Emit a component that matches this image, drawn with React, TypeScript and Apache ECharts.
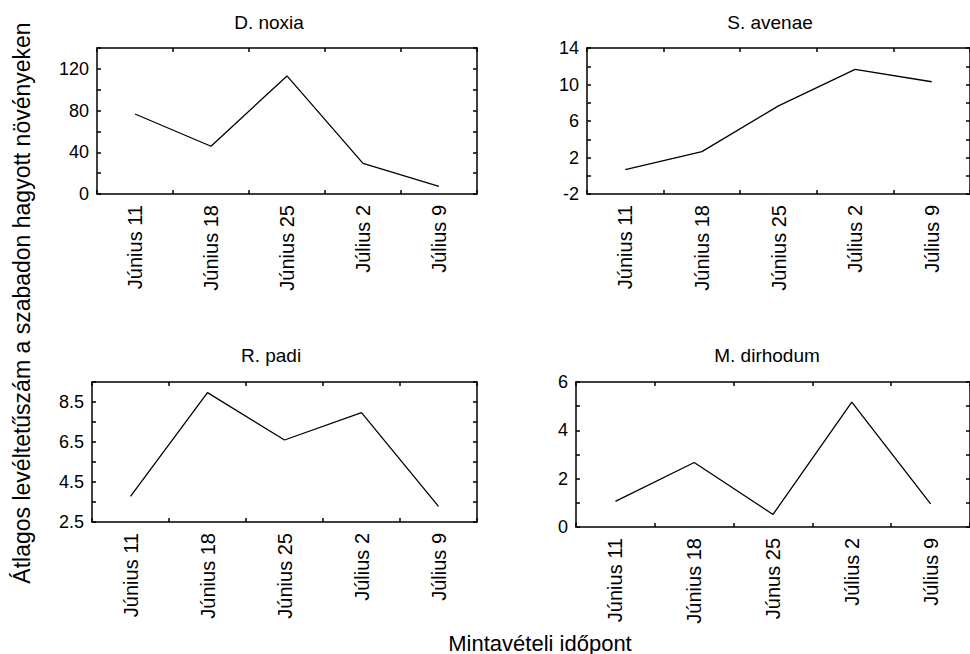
import React, { useEffect, useRef } from "react";
import * as echarts from "echarts";

const categories = ["Június 11", "Június 18", "Június 25", "Július 2", "Július 9"];
const categoriesDirhodum = ["Június 11", "Június 18", "Június 25", "Július 2", "Július 9"];
const categoriesDirhodumLabels = ["Június 11", "Június 18", "Júnus 25", "Július 2", "Július 9"];

const noxiaValues = [76.7, 45.8, 113.2, 29.3, 7.4];
const avenaeValues = [0.67, 2.65, 7.66, 11.65, 10.3];
const padiValues = [3.78, 8.97, 6.6, 7.97, 3.28];
const dirhodumValues = [1.06, 2.67, 0.52, 5.17, 0.96];

const noxiaTickLabels = [0, 40, 80, 120];
const avenaeTickLabels = [-2, 2, 6, 10, 14];
const padiTickLabels = [2.5, 4.5, 6.5, 8.5];
const dirhodumTickLabels = [0, 2, 4, 6];

const titles = ["D. noxia", "S. avenae", "R. padi", "M. dirhodum"];
const yTitle = "Átlagos levéltetűszám a szabadon hagyott növényeken";
const xTitle = "Mintavételi időpont";

const FONT = "'Liberation Sans', Arial, Helvetica, sans-serif";

export default function App() {
  const ref = useRef<HTMLDivElement>(null);
  useEffect(() => {
    if (!ref.current) return;
    const chart = echarts.init(ref.current, undefined, { renderer: "svg" });

    const panels = [
      { grid: { left: 97, top: 48, width: 380, height: 146 }, cats: categories, labels: categories, values: noxiaValues, min: 0, max: 140, interval: 20, ticks: noxiaTickLabels, dec: 0 },
      { grid: { left: 587, top: 48, width: 391, height: 146 }, cats: categories, labels: categories, values: avenaeValues, min: -2, max: 14, interval: 2, ticks: avenaeTickLabels, dec: 0 },
      { grid: { left: 92, top: 382, width: 385, height: 140 }, cats: categories, labels: categories, values: padiValues, min: 2.5, max: 9.5, interval: 1, ticks: padiTickLabels, dec: 1 },
      { grid: { left: 576, top: 382, width: 402, height: 145 }, cats: categoriesDirhodum, labels: categoriesDirhodumLabels, values: dirhodumValues, min: 0, max: 6, interval: 1, ticks: dirhodumTickLabels, dec: 0 },
    ];

    const lineStyle = { color: "#000", width: 1.5 };
    const grids: any[] = [];
    const xAxes: any[] = [];
    const yAxes: any[] = [];
    const series: any[] = [];

    panels.forEach((p, i) => {
      grids.push({ ...p.grid, containLabel: false });
      const labelMap: Record<string, string> = {};
      p.cats.forEach((c, k) => (labelMap[c] = p.labels[k]));
      xAxes.push({
        type: "category",
        gridIndex: i,
        data: p.cats,
        boundaryGap: true,
        position: "bottom",
        axisLine: { show: true, onZero: false, lineStyle },
        axisTick: { show: true, inside: true, length: 4, lineStyle },
        axisLabel: {
          rotate: 90,
          margin: 11,
          fontSize: 20,
          fontFamily: FONT,
          color: "#000",
          interval: 0,
          formatter: (v: string) => labelMap[v] ?? v,
        },
        splitLine: { show: false },
      });
      xAxes.push({
        type: "category",
        gridIndex: i,
        data: p.cats,
        boundaryGap: true,
        position: "top",
        axisLine: { show: true, onZero: false, lineStyle },
        axisTick: { show: true, inside: true, length: 4, lineStyle },
        axisLabel: { show: false },
        splitLine: { show: false },
      });
      const tickSet = p.ticks;
      yAxes.push({
        type: "value",
        gridIndex: i,
        min: p.min,
        max: p.max,
        interval: p.interval,
        position: "left",
        axisLine: { show: true, onZero: false, lineStyle },
        axisTick: { show: true, inside: true, length: 4, lineStyle },
        axisLabel: {
          margin: 8,
          fontSize: 18,
          fontFamily: FONT,
          color: "#000",
          showMinLabel: true,
          showMaxLabel: true,
          formatter: (v: number) =>
            tickSet.some((t) => Math.abs(t - v) < 1e-6) ? v.toFixed(p.dec) : "",
        },
        splitLine: { show: false },
      });
      yAxes.push({
        type: "value",
        gridIndex: i,
        min: p.min,
        max: p.max,
        interval: p.interval,
        position: "right",
        axisLine: { show: true, onZero: false, lineStyle },
        axisTick: { show: true, inside: true, length: 4, lineStyle },
        axisLabel: { show: false },
        splitLine: { show: false },
      });
      series.push({
        type: "line",
        xAxisIndex: i * 2,
        yAxisIndex: i * 2,
        data: p.values,
        showSymbol: false,
        symbol: "none",
        lineStyle: { color: "#000", width: 1.3 },
        silent: true,
      });
    });

    const titlePos = [
      [269, 22],
      [770, 22],
      [271, 355],
      [767, 355],
    ];

    const graphic: any[] = titles.map((t, i) => ({
      type: "text",
      x: titlePos[i][0],
      y: titlePos[i][1],
      style: {
        text: t,
        fontSize: 19,
        fontFamily: FONT,
        fill: "#000",
        textAlign: "center",
        textVerticalAlign: "middle",
      },
    }));
    graphic.push({
      type: "text",
      x: 22,
      y: 303,
      rotation: Math.PI / 2,
      style: {
        text: yTitle,
        fontSize: 23,
        fontFamily: FONT,
        fill: "#000",
        textAlign: "center",
        textVerticalAlign: "middle",
      },
    });
    graphic.push({
      type: "text",
      x: 540,
      y: 643,
      style: {
        text: xTitle,
        fontSize: 22,
        fontFamily: FONT,
        fill: "#000",
        textAlign: "center",
        textVerticalAlign: "middle",
      },
    });

    chart.setOption({
      animation: false,
      backgroundColor: "#fff",
      grid: grids,
      xAxis: xAxes,
      yAxis: yAxes,
      series,
      graphic,
    });
    return () => chart.dispose();
  }, []);

  return (
    <div
      ref={ref}
      style={{ position: "absolute", left: 0, top: 0, width: 970, height: 654, overflow: "hidden", background: "#fff" }}
    />
  );
}
